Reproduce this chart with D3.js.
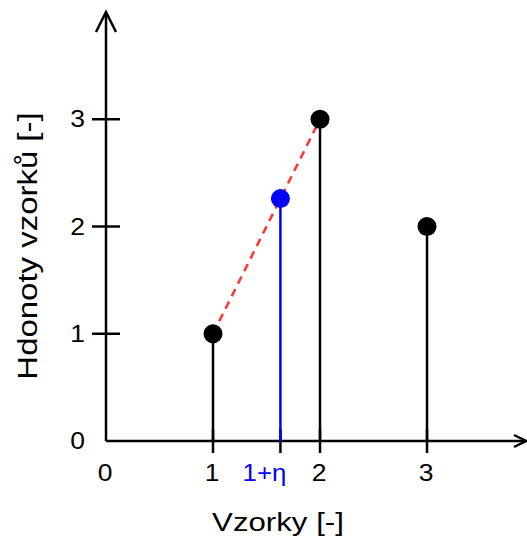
<!DOCTYPE html>
<html>
<head>
<meta charset="utf-8">
<script src="https://cdn.jsdelivr.net/npm/d3@7"></script>
<style>
  body { margin: 0; background: #fff; }
  svg { display: block; font-family: "Liberation Sans", Arial, sans-serif; }
</style>
</head>
<body>
<svg width="527" height="543"></svg>
<script>
// samples
const sampleX = [1, 2, 3];
const sampleY = [1, 3, 2];
// interpolated sample at 1+eta
const etaX = [1.63];
const etaY = [2.26];
const xTickVals = [0, 1, 2, 3];
const yTickVals = [0, 1, 2, 3];

const svg = d3.select("svg");
const x = d3.scaleLinear().domain([0, 3.925]).range([106, 526]);
const y = d3.scaleLinear().domain([0, 4]).range([441, 12]);

// stretch text a little, the original font is wider than Liberation
function widen(sel, k) {
    sel.each(function () {
        const w = this.getComputedTextLength();
        d3.select(this).attr("textLength", w * k).attr("lengthAdjust", "spacingAndGlyphs");
    });
}

// axes lines
svg.append("line")
    .attr("x1", x(0)).attr("y1", y(0))
    .attr("x2", x(3.925)).attr("y2", y(0))
    .attr("stroke", "black").attr("stroke-width", 2.5);
svg.append("line")
    .attr("x1", x(0)).attr("y1", y(0))
    .attr("x2", x(0)).attr("y2", y(4))
    .attr("stroke", "black").attr("stroke-width", 2.5);

// arrow heads
svg.append("path")
    .attr("d", `M${x(0) - 10},${y(4) + 20}L${x(0)},${y(4)}L${x(0) + 10},${y(4) + 20}`)
    .attr("fill", "none").attr("stroke", "black").attr("stroke-width", 2.5);
svg.append("path")
    .attr("d", `M${x(3.925) - 12},${y(0) - 6}L${x(3.925)},${y(0)}L${x(3.925) - 12},${y(0) + 6}`)
    .attr("fill", "none").attr("stroke", "black").attr("stroke-width", 2.5);

// y ticks
svg.selectAll(".ytick")
    .data(yTickVals.filter(d => d > 0))
    .enter().append("line")
    .attr("x1", x(0) - 14).attr("x2", x(0) + 14)
    .attr("y1", d => y(d)).attr("y2", d => y(d))
    .attr("stroke", "black").attr("stroke-width", 2.5);

svg.selectAll(".ylab")
    .data(yTickVals)
    .enter().append("text")
    .attr("x", 85)
    .attr("y", d => y(d) + 8)
    .attr("text-anchor", "end")
    .attr("font-size", 23)
    .text(d => d)
    .call(widen, 1.15);

// x ticks
svg.selectAll(".xtick")
    .data(xTickVals.filter(d => d > 0).concat(etaX))
    .enter().append("line")
    .attr("x1", d => x(d)).attr("x2", d => x(d))
    .attr("y1", y(0) - 12).attr("y2", y(0) + 12)
    .attr("stroke", "black").attr("stroke-width", 2.5);

svg.selectAll(".xlab")
    .data(xTickVals)
    .enter().append("text")
    .attr("x", d => x(d) - 1)
    .attr("y", 481)
    .attr("text-anchor", "middle")
    .attr("font-size", 23)
    .text(d => d)
    .call(widen, 1.15);

svg.append("text")
    .attr("x", x(etaX[0]) - 16)
    .attr("y", 481)
    .attr("text-anchor", "middle")
    .attr("font-size", 23)
    .attr("fill", "#0000ff")
    .text("1+η")
    .call(widen, 1.12);

// red dashed interpolation line
svg.append("line")
    .attr("x1", x(sampleX[0])).attr("y1", y(sampleY[0]))
    .attr("x2", x(sampleX[1])).attr("y2", y(sampleY[1]))
    .attr("stroke", "#ff3333").attr("stroke-width", 2.5)
    .attr("stroke-dasharray", "8,6");

// stems
svg.selectAll(".stem")
    .data(sampleX)
    .enter().append("line")
    .attr("x1", d => x(d)).attr("x2", d => x(d))
    .attr("y1", y(0)).attr("y2", (d, i) => y(sampleY[i]))
    .attr("stroke", "black").attr("stroke-width", 2.5);

svg.append("line")
    .attr("x1", x(etaX[0])).attr("x2", x(etaX[0]))
    .attr("y1", y(0)).attr("y2", y(etaY[0]))
    .attr("stroke", "#0000ff").attr("stroke-width", 2.5);

// points
svg.selectAll(".pt")
    .data(sampleX)
    .enter().append("circle")
    .attr("cx", d => x(d))
    .attr("cy", (d, i) => y(sampleY[i]))
    .attr("r", 9.5)
    .attr("fill", "black");

svg.append("circle")
    .attr("cx", x(etaX[0])).attr("cy", y(etaY[0]))
    .attr("r", 9.5).attr("fill", "#0000ff");

// axis titles
svg.append("text")
    .attr("x", 278).attr("y", 531)
    .attr("text-anchor", "middle")
    .attr("font-size", 26)
    .text("Vzorky [-]")
    .call(widen, 1.2);

svg.append("text")
    .attr("transform", "translate(37,246) rotate(-90)")
    .attr("text-anchor", "middle")
    .attr("font-size", 27)
    .text("Hdonoty vzorků [-]")
    .call(widen, 1.22);
</script>
</body>
</html>
